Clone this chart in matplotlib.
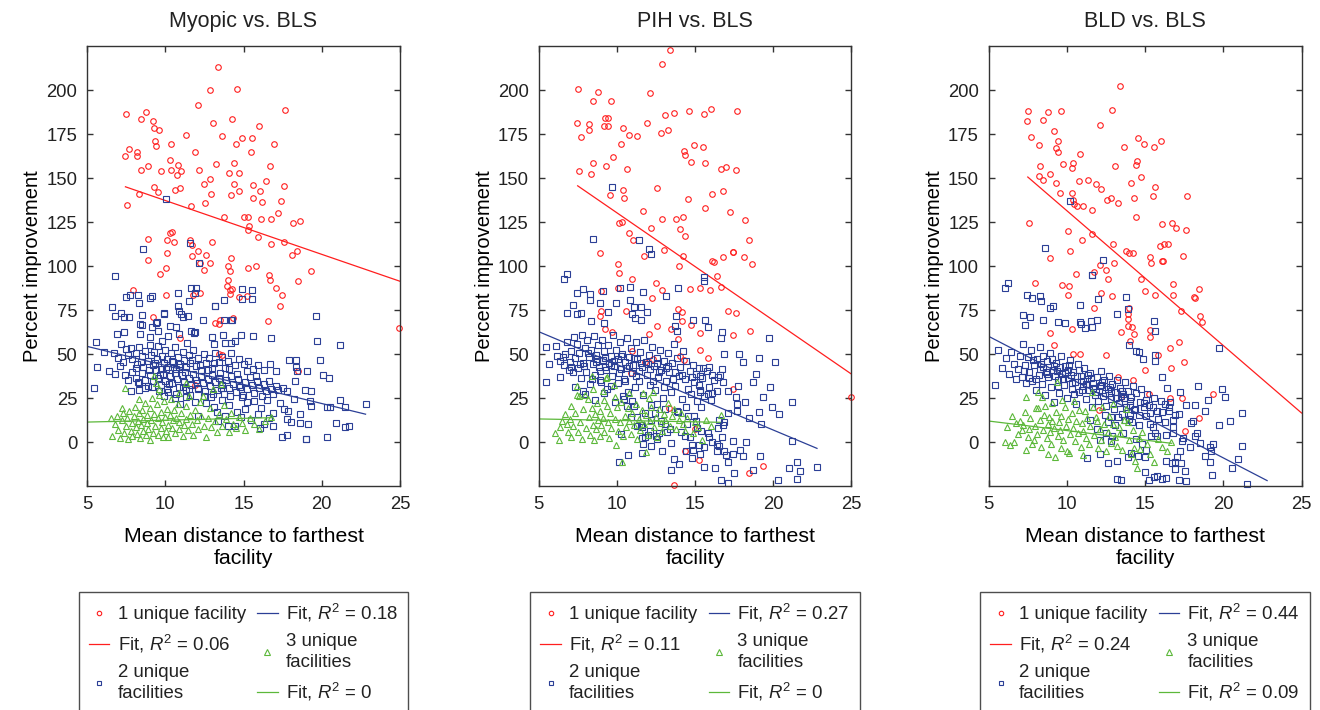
import numpy as np
import matplotlib
matplotlib.use("Agg")
import matplotlib.pyplot as plt

plt.rcParams['font.family'] = ['Liberation Sans', 'DejaVu Sans']
plt.rcParams['mathtext.fontset'] = 'custom'
plt.rcParams['mathtext.rm'] = 'Liberation Sans'
plt.rcParams['mathtext.it'] = 'Liberation Sans:italic'
plt.rcParams['text.color'] = '#222222'

titles = ["Myopic vs. BLS", "PIH vs. BLS", "BLD vs. BLS"]
group_labels = ["1 unique facility", "2 unique\nfacilities", "3 unique\nfacilities"]
x_ticks = [5, 10, 15, 20, 25]
y_ticks = [0, 25, 50, 75, 100, 125, 150, 175, 200]

# R^2 of the fits, per panel: (1 facility, 2 facilities, 3 facilities)
r2_labels = [["0.06", "0.18", "0"], ["0.11", "0.27", "0"], ["0.24", "0.44", "0.09"]]
# fit lines: (intercept, slope, x start, x end)
fits = [
    [(167.9, -3.057, 7.45, 25.0), (65.3, -2.163, 5.0, 22.8), (10.44, 0.212, 5.0, 16.8)],
    [(191.5, -6.109, 7.5, 25.0), (81.5, -3.725, 5.0, 22.8), (14.1, -0.164, 5.0, 16.6)],
    [(208.1, -7.657, 7.5, 25.0), (83.2, -4.602, 5.0, 22.8), (17.5, -1.082, 5.0, 16.7)],
]

# ---------------- Myopic vs. BLS ----------------
myopic_one = [
    (7.47,186.5),(7.45,162.6),(7.7,166.6),(8.2,164.7),(8.16,162.4),(8.45,183.5),(8.75,187.7),(9.18,182.4),
    (9.26,178.7),(9.6,177.4),(9.37,171.3),(9.4,168.1),(8.45,154.6),(8.92,156.7),(9.73,153.9),(10.37,169.3),
    (10.29,160.5),(10.37,154.6),(10.78,157.3),(10.99,153.9),(10.74,151.6),(9.26,145.2),(9.54,142.3),(8.3,141.2),
    (7.54,134.9),(10.6,143.5),(10.95,144.2),(11.29,174.6),(12.1,191.8),(12.85,200.0),(13.36,213.1),(14.57,200.4),
    (13.06,181.6),(13.64,174.2),(14.28,183.5),(14.49,169.6),(14.92,172.7),(15.55,173.1),(15.45,165.1),(16.0,179.7),
    (16.94,169.6),(17.67,189.0),(11.89,165.1),(12.16,154.8),(13.23,158.1),(14.36,158.8),(14.7,153.1),(14.06,152.8),
    (16.68,156.9),(12.46,146.5),(12.85,149.3),(12.89,140.8),(12.55,136.1),(14.36,146.7),(14.19,140.4),(14.7,142.7),
    (15.62,146.1),(16.07,142.7),(16.43,148.2),(15.58,138.9),(16.17,136.6),(17.56,145.4),(17.39,137.0),(17.22,130.5),
    (11.63,134.0),(13.72,127.9),(15.0,127.9),(15.3,127.7),(16.09,126.6),(16.77,126.9),(15.32,123.1),(15.3,120.5),
    (15.9,116.7),(16.75,112.9),(17.6,113.9),(18.18,124.3),(18.62,125.8),(18.43,108.9),(18.07,106.6),(8.88,115.6),
    (10.12,115.0),(10.33,119.0),(10.44,119.5),(10.55,113.7),(11.59,115.0),(11.72,112.0),(12.08,108.5),(12.97,113.9),
    (10.12,107.4),(11.72,105.9),(12.63,106.3),(14.17,104.7),(8.92,103.6),(10.03,98.9),(9.69,95.6),(12.85,101.7),
    (12.5,97.9),(12.2,101.9),(14.0,100.2),(14.13,97.2),(15.3,99.1),(15.8,100.2),(19.29,97.2),(16.6,95.1),
    (16.68,92.2),(18.5,91.7),(17.09,87.9),(17.43,83.7),(17.35,77.5),(14.68,82.6),(14.13,84.1),(13.93,89.0),
    (13.98,92.2),(14.15,86.7),(14.28,87.1),(15.23,83.3),(12.23,84.7),(11.78,83.7),(10.03,83.7),(7.96,86.7),
    (9.18,71.0),(14.32,70.8),(13.19,67.8),(13.42,67.2),(13.49,69.7),(16.56,69.1),(10.95,59.3),(13.4,50.2),
    (13.62,49.6),(18.48,40.7),(24.94,64.8),(11.9,32.8),
]
myopic_two = [
    (10.07,138.0),(8.58,110.0),(11.59,113.0),(12.18,102.0),(6.79,94.3),(6.62,77.1),(6.79,71.8),(7.17,73.7),
    (7.37,71.0),(7.67,71.0),(7.47,82.8),(7.77,83.7),(8.26,83.9),(8.3,79.0),(9.0,82.0),(9.14,83.0),
    (8.48,66.9),(8.52,72.3),(9.16,65.3),(9.43,68.0),(9.9,73.1),(10.8,84.7),(10.78,77.5),(10.88,74.6),
    (10.97,72.9),(11.16,71.0),(11.46,72.0),(11.52,80.3),(11.63,87.7),(11.95,87.7),(11.91,84.7),(13.17,77.5),
    (13.74,80.9),(13.76,69.7),(14.23,69.7),(14.91,87.3),(14.93,81.4),(15.55,81.4),(15.51,86.7),(10.27,65.9),
    (10.67,65.5),(11.87,62.7),(11.67,63.3),(19.65,71.8),(19.67,57.8),(21.18,55.5),(8.35,67.1),(9.46,68.2),
    (9.52,63.5),(8.41,61.8),(7.35,62.9),(6.92,61.4),(9.01,60.1),(10.2,60.4),(10.9,61.6),(11.82,62.3),
    (12.98,59.7),(13.68,60.8),(14.83,61.2),(15.62,60.4),(16.73,59.1),(9.78,57.8),(13.08,55.9),(11.38,56.4),
    (13.79,56.3),(14.17,56.3),(14.47,57.4),(5.58,56.8),(9.93,73.3),(13.15,77.5),(12.4,69.5),(14.25,69.7),
    (6.07,51.5),(6.7,50.6),(7.18,55.9),(7.0,48.0),(7.3,45.5),(7.5,52.8),(7.6,49.5),(7.8,53.5),
    (7.9,47.2),(8.1,51.0),(8.2,44.6),(8.3,54.1),(8.5,48.8),(8.6,42.5),(8.7,52.0),(8.9,46.0),
    (9.0,55.0),(9.1,49.6),(9.2,43.8),(9.3,51.4),(9.45,47.1),(9.55,54.5),(9.7,41.5),(9.8,49.2),
    (9.9,45.2),(10.0,52.6),(10.1,47.6),(10.2,43.0),(10.35,50.8),(10.5,45.8),(10.6,54.0),(10.7,41.9),
    (10.8,48.5),(10.95,44.3),(11.1,51.5),(11.2,47.0),(11.35,42.6),(11.5,49.6),(11.6,45.0),(11.8,52.3),
    (11.95,43.4),(12.1,47.9),(12.3,41.2),(12.45,50.1),(12.6,44.9),(12.8,47.8),(13.0,42.3),(13.2,50.5),
    (13.4,45.6),(13.6,48.3),(13.8,42.0),(14.0,46.2),(14.2,51.0),(14.45,43.7),(14.7,47.4),(15.0,44.6),
    (15.3,46.1),(15.6,41.5),(15.9,44.2),(16.3,41.0),(16.7,44.5),(17.1,40.6),(17.9,47.0),(18.37,47.0),
    (18.37,42.6),(18.41,40.5),(19.07,40.3),(19.9,47.0),(20.07,38.3),(20.44,36.4),(5.64,43.0),(6.39,40.3),
    (7.1,43.4),(6.8,39.0),(7.4,38.2),(7.6,35.5),(7.9,40.1),(8.1,36.7),(8.3,33.8),(8.5,39.3),
    (8.7,35.6),(8.9,31.8),(9.0,38.5),(9.2,34.9),(9.4,40.8),(9.5,36.3),(9.7,32.7),(9.85,38.9),
    (10.0,35.1),(10.1,30.2),(10.3,37.5),(10.45,33.6),(10.6,39.4),(10.75,35.9),(10.9,31.5),(11.05,38.1),
    (11.2,34.4),(11.35,29.6),(11.5,36.8),(11.65,32.5),(11.8,39.0),(11.95,35.2),(12.1,30.6),(12.25,37.4),
    (12.4,33.7),(12.55,28.9),(12.7,36.1),(12.85,31.9),(13.0,38.3),(13.15,34.2),(13.3,29.8),(13.45,36.6),
    (13.6,32.4),(13.75,27.7),(13.9,35.3),(14.05,30.9),(14.2,37.8),(14.35,33.1),(14.5,28.6),(14.65,35.7),
    (14.8,31.2),(14.95,26.9),(15.1,34.5),(15.25,30.1),(15.4,36.9),(15.55,32.6),(15.7,28.2),(15.85,35.1),
    (16.0,30.7),(16.15,26.4),(16.3,33.3),(16.45,29.2),(16.6,34.8),(16.75,30.5),(16.9,27.4),(17.05,32.2),
    (17.2,29.6),(17.54,30.7),(17.8,29.4),(18.26,34.7),(18.9,29.7),(19.33,29.0),(5.47,30.7),(7.82,29.4),
    (8.31,29.7),(8.71,30.9),(8.24,34.1),(10.16,28.4),(11.5,30.3),(12.08,30.3),(10.91,21.8),(11.87,22.7),
    (12.08,15.2),(13.36,12.3),(13.79,15.2),(14.0,9.5),(14.43,9.5),(14.85,14.2),(15.07,18.9),(15.7,23.7),
    (16.03,8.0),(16.28,10.4),(16.88,9.5),(17.48,2.9),(17.8,4.2),(17.77,13.3),(17.84,18.0),(18.05,11.4),
    (18.58,16.1),(18.63,11.0),(19.01,1.9),(19.12,10.4),(19.29,20.5),(19.22,23.7),(20.31,20.3),(20.52,20.3),
    (20.33,3.0),(20.91,10.8),(21.18,23.9),(21.5,20.3),(21.48,8.9),(21.72,9.1),(22.8,21.6),(18.99,1.7),
    (12.6,22.5),(13.1,19.8),(13.6,24.1),(14.1,21.2),(14.6,17.4),(15.2,22.8),(15.5,12.6),(16.1,19.5),
    (16.5,24.3),(16.9,16.8),(17.3,22.1),(17.6,19.2),(18.2,24.6),(12.9,25.5),(11.3,25.8),(9.9,26.2),
    (10.6,24.9),(14.9,25.7),(15.9,16.3),(16.6,13.9),(13.3,17.1),
    (8.15,42.1),(8.45,45.9),(8.95,41.2),(9.35,45.3),(9.65,38.1),(10.05,41.8),(10.4,46.3),(10.85,42.7),
    (11.25,39.8),(11.7,46.6),(12.2,44.1),(12.7,40.8),(13.1,45.2),(13.5,39.4),(14.1,41.6),(14.6,38.9),
    (15.2,40.3),(15.8,37.6),(9.15,31.3),(9.6,28.9),(10.25,32.9),(10.7,27.6),(11.1,31.2),(11.55,27.1),
    (12.0,33.5),(12.5,26.2),(13.05,27.3),(13.55,30.8),(14.15,26.3),(14.7,32.4),
]
myopic_three = [
    (6.5,14.0),(6.6,3.8),(6.8,10.5),(6.9,15.2),(7.0,7.1),(7.1,2.4),(7.2,12.8),(7.3,16.5),
    (7.35,5.2),(7.5,9.4),(7.55,13.6),(7.6,1.9),(7.7,17.8),(7.8,6.3),(7.85,11.2),(7.9,3.5),
    (8.0,14.9),(8.05,20.2),(8.1,8.7),(8.2,4.6),(8.25,12.1),(8.3,16.8),(8.4,2.3),(8.45,9.9),
    (8.5,18.6),(8.55,6.2),(8.6,13.4),(8.7,22.4),(8.75,3.9),(8.8,10.8),(8.85,15.7),(8.9,7.4),
    (9.0,19.5),(9.05,1.6),(9.1,12.6),(9.15,25.3),(9.2,5.5),(9.25,16.2),(9.3,37.5),(9.35,9.1),
    (9.4,33.8),(9.45,21.6),(9.5,4.1),(9.55,13.9),(9.6,26.8),(9.7,7.9),(9.75,17.5),(9.8,11.3),
    (9.85,2.9),(9.9,23.2),(10.0,14.6),(10.05,6.6),(10.1,19.1),(10.15,9.8),(10.2,3.2),(10.3,15.3),
    (10.35,24.7),(10.4,8.2),(10.5,12.4),(10.55,18.4),(10.6,5.1),(10.7,14.1),(10.8,21.9),(10.85,7.5),
    (10.9,11.7),(11.0,16.9),(11.1,3.6),(11.2,9.6),(11.3,20.6),(11.35,13.2),(11.45,6.9),(11.5,26.1),
    (11.6,15.8),(11.7,10.2),(11.8,4.3),(11.9,18.2),(12.0,12.9),(12.1,7.8),(12.2,22.7),(12.3,15.1),
    (12.45,9.3),(12.6,3.1),(12.7,13.7),(12.85,19.7),(12.95,8.6),(13.05,30.1),(13.2,11.9),(13.3,6.1),
    (13.45,15.9),(13.6,9.4),(13.75,21.3),(13.9,13.2),(14.05,5.7),(14.2,16.6),(14.35,10.5),(14.5,8.1),
    (14.7,14.3),(14.9,11.1),(15.1,6.8),(15.4,13.8),(15.7,10.6),(16.0,7.6),(16.4,12.2),(16.75,14.6),
    (13.55,33.1),(11.35,33.5),(7.4,31.1),(8.3,24.6),(9.6,30.4),(10.9,27.8),(12.4,26.5),(7.2,19.5),
]

# ---------------- PIH vs. BLS ----------------
pih_one = [
    (7.52,200.8),(8.77,199.1),(8.5,193.7),(9.63,193.7),(7.47,181.6),(8.24,180.8),(8.2,177.4),(7.73,173.4),
    (9.2,179.5),(9.43,179.5),(9.26,184.3),(9.41,184.3),(10.37,178.4),(10.8,174.6),(11.31,173.8),(10.29,169.6),
    (9.73,162.2),(8.5,158.8),(9.29,156.9),(7.56,154.3),(8.33,152.4),(10.63,155.4),(11.91,181.4),(12.1,198.5),
    (12.87,214.8),(13.38,223.0),(13.08,186.0),(13.68,187.3),(14.6,188.2),(15.58,186.5),(16.04,189.2),(17.67,188.4),
    (12.85,175.7),(13.25,177.2),(14.91,168.9),(15.49,167.7),(14.3,165.5),(14.38,163.0),(14.72,159.2),(15.66,158.4),
    (16.68,155.2),(16.96,156.5),(17.6,154.6),(9.54,140.4),(10.37,143.1),(10.46,138.5),(12.57,144.6),(14.53,138.3),
    (16.07,141.2),(16.8,142.7),(15.62,133.0),(17.26,130.7),(11.65,131.1),(12.91,126.9),(13.76,126.9),(14.21,128.1),
    (18.22,126.2),(10.16,124.7),(10.33,125.4),(12.21,121.6),(14.06,121.3),(14.38,117.3),(10.76,118.8),(11.01,115.0),
    (18.48,115.0),(8.94,107.8),(11.72,105.7),(12.99,109.1),(14.23,106.1),(16.8,105.3),(17.41,108.3),(18.11,105.3),
    (16.11,103.0),(10.07,101.0),(10.14,96.0),(10.07,87.9),(10.97,92.6),(8.97,86.2),(8.97,74.8),(8.92,72.0),
    (10.59,74.6),(9.24,64.6),(12.48,90.5),(12.23,82.2),(12.87,86.7),(12.55,66.1),(12.06,61.7),(14.0,100.2),
    (14.7,87.1),(15.34,87.5),(15.94,86.7),(16.64,88.4),(16.43,94.5),(16.19,102.5),(17.43,108.1),(18.65,101.1),
    (13.93,75.8),(14.19,73.9),(14.15,69.1),(13.93,58.5),(13.49,64.6),(14.72,66.9),(15.34,62.1),(17.13,74.6),
    (17.62,73.5),(17.45,60.8),(18.5,63.1),(15.32,52.3),(15.81,47.7),(14.04,49.2),(14.32,46.8),(11.82,45.5),
    (10.97,51.7),(9.69,62.7),(13.36,19.5),(15.02,7.6),(17.41,30.3),(14.34,-4.9),(15.26,-10.2),(18.43,-17.6),
    (19.33,-13.4),(13.68,-24.2),(24.96,25.6),(10.9,39.6),(12.3,47.5),
]
pih_two = [
    (9.71,145.1),(8.5,115.5),(11.44,115.0),(12.05,109.8),(12.2,107.0),
    (6.64,92.6),(6.79,95.6),(6.81,73.5),(7.17,78.0),(7.45,85.0),(7.81,86.9),(7.69,73.3),(7.45,72.9),
    (8.3,84.3),(8.28,81.0),(8.35,68.9),(9.12,85.8),(8.94,79.2),(9.46,74.2),(9.18,67.6),(9.93,79.0),
    (10.22,87.7),(10.82,88.1),(10.84,80.9),(11.1,76.9),(10.97,72.9),(11.18,70.6),(11.52,69.7),(11.52,77.1),
    (11.65,85.2),(11.93,73.9),(13.14,83.0),(13.89,87.7),(13.76,71.8),(13.7,66.3),(13.83,63.4),(14.85,69.5),
    (15.62,69.5),(15.6,93.8),(15.55,91.9),(15.81,65.5),(16.73,62.9),(16.66,59.3),(16.83,50.2),(17.84,50.2),
    (18.07,45.5),(19.73,59.3),(20.12,45.6),(19.12,47.9),(18.88,38.6),(18.73,34.3),(19.78,31.4),(19.37,25.6),
    (19.95,20.3),(21.18,22.7),(21.18,0.6),(20.39,16.1),(19.09,17.0),(19.24,10.4),(18.45,13.6),(18.28,0.4),
    (17.88,-4.2),(18.05,-7.8),(17.41,-6.6),(17.49,-17.2),(17.09,-11.0),(16.64,-21.6),(17.09,-22.9),(16.96,-7.2),
    (16.43,-4.7),(16.26,-14.8),(15.55,-13.8),(15.32,-6.4),(14.89,-4.5),(14.79,-8.9),(14.42,-4.7),(13.96,-12.5),
    (13.64,-9.3),(13.44,-15.5),(12.87,-4.7),(12.16,-1.9),(11.63,-6.1),(10.74,-7.4),(10.12,-11.0),(13.46,-0.6),
    (12.57,1.7),(11.78,2.8),(11.67,-0.9),(20.99,-14.4),(21.55,-11.0),(21.72,-16.3),(22.82,-14.0),(20.31,-21.2),
    (21.5,-21.0),(18.71,-15.5),(19.14,-8.0),(17.45,0.6),(15.9,2.8),(15.58,-2.8),(16.07,0.0),(16.51,-1.9),
    (16.73,2.8),(16.88,-4.7),(16.39,-0.9),(15.23,-1.5),(14.79,-1.5),(14.7,2.8),(14.36,3.8),(14.49,10.4),
    (15.09,11.9),(15.11,8.3),(15.38,6.6),(15.81,5.1),(16.45,8.1),(16.77,9.8),(16.88,11.7),(16.51,12.7),
    (17.09,16.5),(17.71,17.6),(17.69,21.8),(18.2,22.9),(17.64,25.6),(17.09,29.4),(17.73,32.2),(16.77,34.5),
    (16.45,37.3),(16.73,41.5),(16.09,38.4),(15.87,43.0),(15.49,42.2),(15.34,37.7),(15.23,32.4),(15.81,27.5),
    (16.07,28.0),(15.34,28.6),(15.41,19.9),(14.42,19.9),(14.53,14.8),(14.91,15.2),(13.85,18.0),(13.1,10.4),
    (12.85,12.3),(11.97,4.4),(11.63,2.5),(11.59,8.5),(12.72,5.1),(13.21,5.7),(12.1,6.6),(11.29,14.6),
    (11.55,10.0),(10.65,20.8),(10.48,24.6),(11.1,20.6),(12.21,21.2),(12.46,16.5),
    (5.45,54.4),(6.11,54.9),(5.66,44.5),(5.49,34.3),(6.39,46.4),(6.56,48.7),(6.92,41.1),(6.7,50.3),
    (6.85,57.2),(7.0,45.6),(7.1,52.1),(7.2,39.8),(7.25,59.6),(7.35,47.9),(7.45,55.8),(7.5,42.3),
    (7.6,50.9),(7.7,36.7),(7.75,61.2),(7.85,45.1),(7.95,53.4),(8.05,40.2),(8.1,57.9),(8.2,48.2),
    (8.3,33.1),(8.35,52.7),(8.45,44.3),(8.55,60.4),(8.6,38.5),(8.7,49.5),(8.8,55.1),(8.85,42.8),
    (8.95,35.6),(9.05,58.3),(9.1,46.7),(9.2,51.9),(9.3,40.9),(9.35,30.4),(9.45,55.5),(9.5,44.9),
    (9.6,49.1),(9.7,37.8),(9.75,60.8),(9.85,43.2),(9.95,52.5),(10.05,47.3),(10.1,33.9),(10.2,57.1),
    (10.3,41.7),(10.35,50.1),(10.45,36.2),(10.55,45.5),(10.65,59.4),(10.7,28.8),(10.8,48.6),(10.9,53.8),
    (10.95,39.4),(11.05,44.1),(11.15,31.7),(11.25,56.7),(11.3,47.1),(11.4,35.1),(11.5,51.3),(11.6,42.6),
    (11.7,26.9),(11.75,58.2),(11.85,45.8),(11.95,38.1),(12.05,49.7),(12.15,32.8),(12.25,54.2),(12.35,43.5),
    (12.45,29.6),(12.55,47.9),(12.65,36.9),(12.75,52.3),(12.85,41.3),(12.95,25.4),(13.05,46.4),(13.15,34.6),
    (13.25,50.8),(13.35,39.9),(13.45,28.3),(13.55,44.8),(13.65,55.6),(13.75,32.1),(13.85,48.1),(13.95,37.6),
    (14.05,42.9),(14.15,24.7),(14.25,51.6),(14.35,35.8),(14.45,46.1),(14.55,30.5),(14.65,40.4),(14.75,27.3),
    (14.85,44.2),(14.95,34.1),(15.05,38.8),(15.15,23.6),(15.25,42.1),(15.35,29.7),(15.45,36.3),(15.6,26.1),
    (15.75,40.7),(15.9,31.4),(16.05,24.2),(16.2,35.4),(16.4,29.1),(16.6,38.2),(8.0,27.5),(8.6,24.3),
    (9.2,28.2),(9.9,22.8),(10.4,26.4),(11.0,23.5),(7.3,31.6),(6.4,36.9),(7.85,29.3),(12.6,21.9),
    (13.1,19.2),(13.9,17.4),(11.8,16.8),(10.9,14.2),(12.2,12.9),(11.3,9.1),(13.4,7.3),(12.5,3.7),
    (14.1,5.9),(10.3,4.6),(8.9,40.3),(9.6,43.7),(10.15,39.2),(10.75,43.3),(11.45,40.5),(12.0,44.6),
    (12.7,39.7),(13.3,43.1),(9.25,47.8),(8.65,45.9),(7.9,43.6),(7.05,42.8),(6.6,44.1),(6.2,48.9),
    (7.65,44.7),(8.15,50.6),(8.75,47.2),(9.25,42.6),(9.8,46.4),(10.25,49.3),(10.6,42.1),(11.1,47.9),
    (11.55,44.9),(12.1,41.6),(12.6,45.1),(13.15,42.4),(13.7,40.2),(14.2,38.1),(14.8,36.9),(8.4,36.1),
    (9.0,34.2),(9.65,31.9),(10.5,34.7),(11.2,37.9),(12.3,34.8),(13.0,31.2),(13.6,35.9),
]
pih_three = [
    (6.02,5.3),(6.3,1.5),(6.49,12.3),(6.7,16.1),(6.79,10.4),(6.9,6.1),(7.0,13.5),(7.1,3.2),
    (7.2,9.2),(7.3,16.8),(7.45,27.1),(7.6,26.1),(7.45,32.2),(7.55,5.8),(7.65,11.6),(7.75,2.1),
    (7.85,18.7),(7.99,27.1),(8.05,8.3),(8.16,24.8),(8.2,14.2),(8.3,4.4),(8.39,37.7),(8.4,19.6),
    (8.5,10.1),(8.55,1.2),(8.6,15.9),(8.7,7.3),(8.75,22.6),(8.8,12.7),(8.9,3.8),(8.95,17.8),
    (9.0,9.6),(9.1,13.8),(9.15,29.2),(9.2,5.7),(9.29,36.6),(9.37,36.9),(9.4,20.7),(9.45,11.4),
    (9.5,2.6),(9.55,16.4),(9.65,8.1),(9.8,32.6),(9.88,25.9),(9.9,13.2),(9.97,-1.7),(10.0,19.9),
    (10.1,6.4),(10.2,11.8),(10.25,23.1),(10.33,-11.2),(10.4,3.5),(10.5,15.1),(10.6,8.8),(10.7,19.4),
    (10.8,12.3),(10.9,4.9),(11.0,16.6),(11.1,9.7),(11.2,21.5),(11.3,1.8),(11.4,13.4),(11.5,7.2),
    (11.6,18.1),(11.67,27.8),(11.75,10.6),(11.84,-5.7),(11.9,15.3),(12.0,4.2),(12.1,12.1),(12.2,20.3),
    (12.31,28.8),(12.4,8.5),(12.5,14.6),(12.6,2.9),(12.7,18.8),(12.8,10.9),(12.9,6.3),(13.0,16.1),
    (13.1,12.5),(13.25,22.4),(13.4,9.1),(13.55,14.9),(13.68,19.1),(13.8,7.7),(13.95,12.9),(14.1,16.8),
    (14.25,10.2),(14.38,6.6),(14.5,13.6),(14.85,5.1),(15.0,11.3),(15.2,8.6),(15.45,1.5),(15.7,12.8),
    (16.0,9.4),(16.66,15.3),(9.2,24.2),(8.45,30.4),(10.75,28.1),(12.05,25.2),(7.05,20.8),(6.35,8.7),
]

# ---------------- BLD vs. BLS ----------------
bld_one = [
    (7.5,188.0),(7.48,182.7),(8.48,183.1),(8.78,187.5),(9.61,187.9),(7.73,173.4),(8.2,168.9),(9.2,176.7),
    (9.4,171.2),(9.29,167.2),(9.42,165.1),(10.81,163.9),(8.31,156.9),(9.74,158.1),(10.38,158.8),(10.31,156.0),
    (8.22,151.2),(8.95,152.4),(8.48,149.1),(9.29,147.4),(10.76,148.6),(11.32,149.0),(9.53,141.4),(10.34,141.7),
    (10.38,137.4),(10.44,135.1),(10.66,134.0),(11.0,134.0),(11.62,132.1),(7.56,124.7),(10.08,120.3),(10.96,115.0),
    (11.6,118.4),(10.17,108.7),(8.91,104.9),(12.11,180.1),(12.88,188.8),(13.37,202.3),(13.67,167.7),(14.56,173.1),
    (14.95,169.3),(15.57,167.7),(16.04,171.2),(13.07,156.9),(14.5,159.6),(14.39,157.7),(14.71,150.5),(14.07,147.1),
    (11.89,146.5),(12.19,144.0),(12.85,138.5),(12.58,137.8),(13.26,136.2),(14.29,138.9),(15.48,140.0),(15.65,144.8),
    (17.66,139.8),(14.39,128.1),(16.08,123.9),(16.7,124.7),(16.95,121.8),(17.59,120.7),(15.96,111.6),(16.2,112.7),
    (16.44,112.7),(12.92,112.7),(13.75,108.9),(14.0,107.6),(14.22,107.4),(15.33,105.3),(17.42,105.9),(16.1,103.2),
    (15.37,101.9),(16.12,102.8),(7.97,90.5),(9.7,89.2),(10.12,89.0),(10.08,83.5),(10.57,95.5),(10.34,64.2),
    (9.18,55.3),(8.95,61.9),(11.72,96.8),(11.72,76.3),(12.11,100.6),(12.21,84.8),(12.51,97.9),(12.66,93.0),
    (12.88,83.3),(13.0,101.7),(12.53,49.4),(12.04,18.6),(13.43,62.9),(13.94,76.5),(13.92,72.9),(13.92,69.9),
    (13.88,66.3),(14.14,65.5),(14.05,57.6),(14.31,61.4),(14.75,92.6),(15.01,86.2),(15.63,83.9),(15.33,63.8),
    (15.33,59.8),(15.84,49.6),(15.22,27.3),(16.8,89.8),(16.8,83.5),(17.27,74.6),(17.14,57.0),(17.47,45.5),
    (16.59,53.4),(16.68,42.2),(16.57,25.0),(17.38,25.4),(17.57,6.6),(18.13,82.4),(18.22,81.8),(18.47,86.9),
    (18.53,71.6),(18.66,68.4),(19.32,27.7),(18.45,13.8),(13.45,25.9),(13.28,37.3),(10.38,50.4),(10.83,50.2),
    (14.2,35.4),(15.0,41.2),
]
bld_two = [
    (10.23,137.2),(8.57,110.2),(12.3,103.5),(11.6,95.0),
    (6.05,87.9),(6.22,90.7),(7.45,83.9),(7.8,82.2),(8.27,83.3),(8.33,80.5),(7.22,72.5),(7.35,66.5),
    (7.67,71.0),(8.5,69.5),(8.91,76.3),(9.14,77.3),(9.42,68.2),(9.91,67.6),(10.85,78.0),(10.83,68.6),
    (10.91,67.2),(11.13,64.8),(11.53,68.8),(11.62,65.7),(11.92,69.5),(11.6,94.9),(11.96,81.4),(13.2,72.7),
    (13.75,82.8),(13.88,75.8),(15.54,68.8),(15.63,63.3),(13.94,55.3),(14.41,52.1),(14.63,51.5),(14.84,47.2),
    (15.63,49.6),(15.63,46.4),(16.08,37.3),(19.73,53.6),(19.94,30.3),(20.13,25.9),(19.71,10.0),(20.45,12.1),
    (21.2,16.7),(21.2,-2.3),(20.92,-9.7),(20.56,-14.6),(21.54,-23.5),(19.17,-2.8),(19.22,-5.1),(19.34,-0.9),
    (19.15,-11.4),(19.25,-18.4),(18.81,-7.6),(18.53,-0.6),(18.34,5.5),(18.19,3.6),(18.04,12.1),(17.64,21.2),
    (18.21,21.0),(17.91,11.2),(17.44,2.5),(17.38,0.8),(17.21,-4.7),(17.04,-8.5),(16.89,-11.0),(16.92,-15.2),
    (16.74,-11.6),(17.32,-11.6),(17.53,-16.1),(17.59,-22.0),(17.19,-21.6),(16.31,-10.8),(16.33,-20.3),(16.06,-20.6),
    (15.76,-19.1),(15.57,-19.5),(15.27,-21.4),(14.97,-16.9),(14.97,-8.5),(15.03,-4.4),(14.52,-7.6),(14.07,-6.3),
    (13.88,-8.5),(13.22,-21.0),(13.45,-21.4),(13.2,-10.8),(12.6,-11.6),(12.11,-6.6),(11.3,-8.9),(12.11,1.5),
    (12.79,0.6),(12.47,5.1),(12.66,11.4),(12.79,14.6),(13.26,14.6),(13.71,12.7),(14.01,15.5),(14.16,11.7),
    (14.58,10.0),(15.29,10.4),(15.5,8.5),(15.61,5.1),(15.74,3.4),(15.37,3.8),(16.36,4.4),(16.78,5.1),
    (16.78,8.9),(16.78,12.7),(16.91,15.3),(17.17,15.9),(16.53,20.3),(16.29,21.6),(16.61,22.7),(16.06,17.4),
    (15.76,18.0),(15.5,20.3),(15.07,15.2),(14.93,19.9),(14.69,23.1),(15.05,24.2),(15.24,21.2),(14.35,18.8),
    (14.01,21.2),(13.62,25.2),(18.4,32.2),(17.2,28.4),(16.4,30.6),(19.0,24.1),(18.8,17.9),(17.9,-2.5),
    (5.58,52.6),(5.4,32.4),(5.85,42.3),(6.1,47.8),(6.3,38.9),(6.45,51.2),(6.6,44.6),(6.75,35.7),
    (6.9,41.9),(7.0,49.3),(7.1,37.2),(7.2,56.1),(7.3,44.1),(7.4,33.6),(7.5,48.4),(7.6,39.8),
    (7.7,52.7),(7.8,35.1),(7.9,43.9),(8.0,29.8),(8.1,47.2),(8.2,38.3),(8.3,53.9),(8.4,33.2),
    (8.5,42.5),(8.6,26.7),(8.7,46.1),(8.8,36.9),(8.9,50.6),(9.0,31.4),(9.1,41.2),(9.2,22.9),
    (9.3,45.3),(9.4,35.5),(9.5,28.1),(9.6,48.9),(9.7,38.7),(9.8,32.6),(9.9,43.1),(10.0,25.2),
    (10.1,36.4),(10.2,46.8),(10.3,30.1),(10.4,40.2),(10.5,34.3),(10.6,21.6),(10.7,44.6),(10.8,28.5),
    (10.9,37.8),(11.0,32.2),(11.1,42.3),(11.2,24.4),(11.3,35.9),(11.4,29.7),(11.5,39.5),(11.6,19.8),
    (11.7,33.6),(11.8,27.1),(11.9,37.1),(12.0,23.3),(12.1,31.8),(12.2,40.7),(12.3,26.4),(12.4,35.2),
    (12.5,20.6),(12.6,30.2),(12.7,37.9),(12.8,24.8),(12.9,33.1),(13.0,18.9),(13.1,28.6),(13.2,35.6),
    (13.3,22.3),(13.4,31.1),(13.5,16.2),(13.6,27.3),(13.7,34.5),(13.8,20.1),(13.9,29.4),(14.0,13.1),
    (14.1,25.6),(14.2,31.8),(14.3,18.3),(14.45,27.9),(14.6,15.6),(14.75,30.4),(14.9,22.1),(15.1,27.6),
    (15.3,16.9),(15.55,25.3),(15.8,13.2),(16.0,23.5),(16.25,11.6),(16.5,17.9),(8.05,35.9),(8.65,40.1),
    (9.25,37.6),(9.85,39.6),(10.45,27.4),(11.05,35.1),(11.65,30.9),(12.25,34.1),(12.85,29.1),(13.45,26.1),
    (9.55,42.7),(10.15,44.1),(10.75,40.9),(11.35,38.4),(7.25,40.6),(7.85,46.6),(8.45,49.1),(9.05,47.5),
    (12.45,15.8),(13.05,9.6),(11.45,12.9),(11.95,7.3),(12.9,3.8),(13.6,5.4),(14.4,1.9),(14.8,-1.2),
    (8.25,41.7),(8.75,38.8),(9.15,43.6),(9.45,31.9),(9.75,35.8),(10.05,41.3),(10.35,33.7),(10.65,37.6),
    (10.95,29.6),(11.25,33.1),(11.55,36.4),(11.85,28.3),(12.15,32.6),(12.45,27.9),(12.75,31.3),(13.15,25.3),
    (13.55,29.1),(14.05,23.4),(7.55,36.4),(8.35,44.7),(9.35,40.3),(10.25,38.1),
]
bld_three = [
    (6.07,0.0),(6.34,-1.7),(6.15,8.9),(6.77,11.2),(6.86,4.7),(6.64,0.4),(7.0,12.3),(7.1,6.8),
    (7.2,10.1),(7.39,-4.5),(7.41,25.6),(7.5,3.1),(7.56,7.4),(7.65,13.6),(7.75,-1.2),(7.88,1.3),
    (7.95,9.2),(8.05,19.3),(8.12,4.9),(8.18,19.3),(8.25,12.8),(8.35,-2.6),(8.42,25.6),(8.5,7.1),
    (8.55,15.4),(8.63,20.6),(8.7,2.2),(8.78,10.6),(8.86,14.6),(8.92,5.6),(9.0,-0.8),(9.08,12.1),
    (9.15,8.3),(9.23,-8.1),(9.3,17.2),(9.38,34.1),(9.42,3.7),(9.5,11.5),(9.58,6.9),(9.65,15.1),
    (9.7,24.1),(9.78,1.4),(9.89,19.9),(9.95,9.4),(9.99,-4.7),(10.05,13.3),(10.14,-6.1),(10.2,4.8),
    (10.3,16.7),(10.4,8.1),(10.5,0.6),(10.6,11.9),(10.7,5.3),(10.8,18.4),(10.9,-2.9),(10.98,10.8),
    (11.05,6.2),(11.13,18.0),(11.2,2.4),(11.3,13.8),(11.4,-1.1),(11.5,9.5),(11.62,28.6),(11.66,19.9),
    (11.75,4.1),(11.85,14.3),(11.92,11.9),(12.0,-3.3),(12.1,7.7),(12.2,1.2),(12.26,19.9),(12.4,10.6),
    (12.5,-5.2),(12.6,5.9),(12.7,14.9),(12.8,-0.4),(12.94,10.4),(13.05,3.3),(13.18,-1.9),(13.3,8.8),
    (13.37,5.1),(13.5,-4.4),(13.62,12.4),(13.75,18.9),(13.88,11.4),(14.0,1.6),(14.1,-6.4),(14.2,7.1),
    (14.29,-3.2),(14.35,-10.4),(14.5,-14.6),(14.58,2.7),(14.65,-3.8),(14.8,5.6),(15.1,-0.9),(15.3,-6.8),
    (15.54,-11.0),(15.8,1.9),(16.1,-2.7),(16.68,0.2),(16.4,-4.9),(8.15,28.3),(9.05,22.5),(10.45,23.6),
    (7.3,17.4),(6.5,14.9),(12.95,21.7),(11.0,-7.3),(9.6,-3.5),(8.8,-6.6),
]

panel_data = [(myopic_one, myopic_two, myopic_three),
              (pih_one, pih_two, pih_three),
              (bld_one, bld_two, bld_three)]

colors = ['#ff1e1e', '#2b3f96', '#5cb83a']
markers = ['o', 's', '^']
msizes = [4.0, 3.8, 4.6]

fig = plt.figure(figsize=(13.2, 7.1), dpi=100)
lefts = [0.066, 0.408, 0.749]

for k in range(3):
    ax = fig.add_axes([lefts[k], 0.315, 0.237, 0.62])
    handles = []
    labels = []
    for g in range(3):
        pts = np.array(panel_data[k][g])
        h, = ax.plot(pts[:, 0], pts[:, 1], linestyle='none', marker=markers[g],
                     markersize=msizes[g], markerfacecolor='none',
                     markeredgecolor=colors[g], markeredgewidth=0.8, clip_on=False)
        b0, b1, xa, xb = fits[k][g]
        xs = np.array([xa, xb])
        l, = ax.plot(xs, b0 + b1 * xs, color=colors[g], lw=0.9)
        handles += [h, l]
        labels += [group_labels[g], "Fit, $R^2$ = " + r2_labels[k][g]]

    ax.set_xlim(5, 25)
    ax.set_ylim(-25, 225)
    ax.set_xticks(x_ticks)
    ax.set_yticks(y_ticks)
    ax.tick_params(direction='in', top=True, right=True, length=4, width=1,
                   labelsize=13.3, colors='#333333', labelcolor='#222222', pad=7)
    for s in ax.spines.values():
        s.set_color('#333333')
        s.set_linewidth(1.0)
    ax.set_title(titles[k], fontsize=15.5, pad=14)
    ax.set_ylabel("Percent improvement", fontsize=14.5, labelpad=3)
    ax.set_xlabel("Mean distance to farthest\nfacility", fontsize=15.4, labelpad=10)

    leg = ax.legend(handles, labels, ncol=2, loc='upper center', bbox_to_anchor=(0.5, -0.218),
                    fontsize=13.4, frameon=True, fancybox=False, edgecolor='#222222',
                    handlelength=1.1, handletextpad=0.45, columnspacing=0.6,
                    borderpad=0.55, labelspacing=0.5, markerscale=0.8)
    leg.get_frame().set_linewidth(1.0)
    for t in leg.get_texts():
        t.set_linespacing(1.3)

fig.savefig("out.png", dpi=100)
